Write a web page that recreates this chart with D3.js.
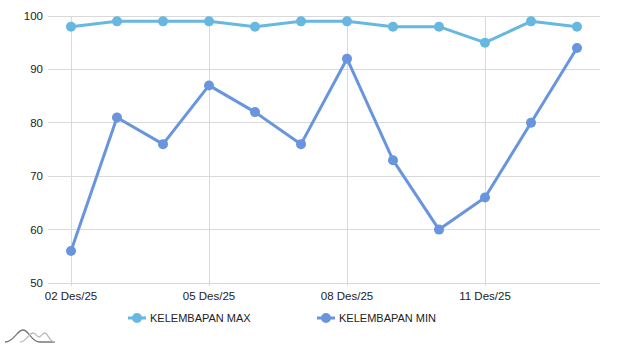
<!DOCTYPE html>
<html><head><meta charset="utf-8">
<script src="https://cdn.jsdelivr.net/npm/d3@7"></script>
<style>body{margin:0;background:#fff}svg{display:block;font-family:"Liberation Sans",Arial,sans-serif}</style>
</head><body><svg id="c" width="620" height="348"></svg>
<script>
const dates = ["02 Des/25","03 Des/25","04 Des/25","05 Des/25","06 Des/25","07 Des/25","08 Des/25","09 Des/25","10 Des/25","11 Des/25","12 Des/25","13 Des/25"];
const humMax = [98,99,99,99,98,99,99,98,98,95,99,98];
const humMin = [56,81,76,87,82,76,92,73,60,66,80,94];
const yTicks = [50,60,70,80,90,100];
const seriesNames = ["KELEMBAPAN MAX","KELEMBAPAN MIN"];
const colors = ["#67b8e0","#6895de"];

const svg = d3.select("#c");
const L=48,R=600,T=16,B=283;
const x = d3.scalePoint().domain(dates).range([L,R]).padding(0.5);
const y = d3.scaleLinear().domain([50,100]).range([B,T]);

svg.append("g").selectAll("line").data(yTicks).join("line")
  .attr("x1",L).attr("x2",R).attr("y1",d=>y(d)).attr("y2",d=>y(d))
  .attr("stroke","#d9d9d9").attr("stroke-width",1).attr("shape-rendering","crispEdges");
const shown = dates.filter((d,i)=>i%3===0);
svg.append("g").selectAll("line").data(shown).join("line")
  .attr("x1",d=>x(d)).attr("x2",d=>x(d)).attr("y1",T).attr("y2",B+3)
  .attr("stroke","#d9d9d9").attr("stroke-width",1).attr("shape-rendering","crispEdges");

svg.append("g").selectAll("text").data(yTicks).join("text")
  .attr("x",43).attr("y",d=>y(d)+4).attr("text-anchor","end")
  .attr("font-size",11.5).attr("fill","#222").text(d=>d);
svg.append("g").selectAll("text").data(shown).join("text")
  .attr("x",d=>x(d)).attr("y",300).attr("text-anchor","middle")
  .attr("font-size",11.5).attr("fill","#222").text(d=>d);

const line = d3.line().x((d,i)=>x(dates[i])).y(d=>y(d));
[humMax,humMin].forEach((s,k)=>{
  const g=svg.append("g");
  g.append("path").datum(s).attr("d",line).attr("fill","none")
    .attr("stroke",colors[k]).attr("stroke-width",3).attr("stroke-linejoin","round");
  g.selectAll("circle").data(s).join("circle")
    .attr("cx",(d,i)=>x(dates[i])).attr("cy",d=>y(d)).attr("r",5).attr("fill",colors[k]);
});

const legX=[128,317];
seriesNames.forEach((n,k)=>{
  const g=svg.append("g").attr("transform",`translate(${legX[k]},318)`);
  g.append("line").attr("x1",0).attr("x2",18).attr("y1",0).attr("y2",0).attr("stroke",colors[k]).attr("stroke-width",3);
  g.append("circle").attr("cx",9).attr("cy",0).attr("r",5).attr("fill",colors[k]);
  g.append("text").attr("x",22).attr("y",4).attr("font-size",11).attr("fill","#222").text(n);
});

const lg=svg.append("g").attr("fill","none").attr("stroke-width",1.3);
lg.append("path").attr("d","M5,342 C14,342 17,330 23,330 C29,330 31,342 40,342 L55,342").attr("stroke","#777");
lg.append("path").attr("d","M20,342 C26,342 29,333 33,333 C36,333 37,337 39,337 C41,337 42,333 45,333 C48,333 49,342 55,342").attr("stroke","#bbb");
</script></body></html>
